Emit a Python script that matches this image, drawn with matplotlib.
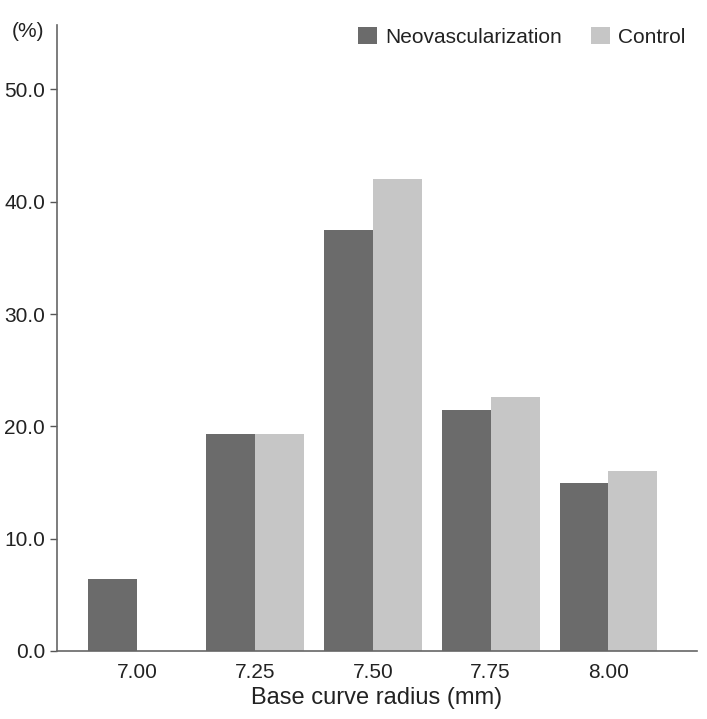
import numpy as np
import matplotlib.pyplot as plt

radius = ['7.00', '7.25', '7.50', '7.75', '8.00']
neo = [6.4, 19.3, 37.5, 21.5, 15.0]
control = [0.0, 19.3, 42.0, 22.6, 16.0]
yticks = [0, 10, 20, 30, 40, 50]

plt.rcParams['font.family'] = ['Liberation Sans', 'DejaVu Sans']

fig = plt.figure(figsize=(7.07, 7.19), dpi=100)
ax = fig.add_axes([0.0806, 0.0946, 0.905, 0.870])

x = np.arange(len(radius))
w = 0.415
ax.bar(x - w / 2, neo, w, color='#6b6b6b', label='Neovascularization')
ax.bar(x + w / 2, control, w, color='#c6c6c6', label='Control')

ax.set_xlim(-0.68, 4.75)
ax.set_ylim(0, 55.7)
ax.set_xticks(x)
ax.set_xticklabels(radius)
ax.set_yticks(yticks)
ax.set_yticklabels([f'{v:.1f}' for v in yticks])
ax.tick_params(axis='x', length=0, pad=9, labelsize=15, colors='#222222')
ax.tick_params(axis='y', length=5, width=1, color='#555555', labelsize=15, labelcolor='#222222')

for s in ['top', 'right']:
    ax.spines[s].set_visible(False)
for s in ['left', 'bottom']:
    ax.spines[s].set_color('#666666')
    ax.spines[s].set_linewidth(1.2)

ax.set_xlabel('Base curve radius (mm)', fontsize=17, color='#222222', labelpad=3)
fig.text(0.017, 0.948, '(%)', fontsize=15, color='#222222')

ax.legend(loc='upper right', ncol=2, frameon=False, fontsize=15,
          handlelength=0.9, handleheight=0.9, handletextpad=0.4, columnspacing=1.4,
          bbox_to_anchor=(1.012, 1.028), labelcolor='#222222')

fig.savefig('out.png', dpi=100)
